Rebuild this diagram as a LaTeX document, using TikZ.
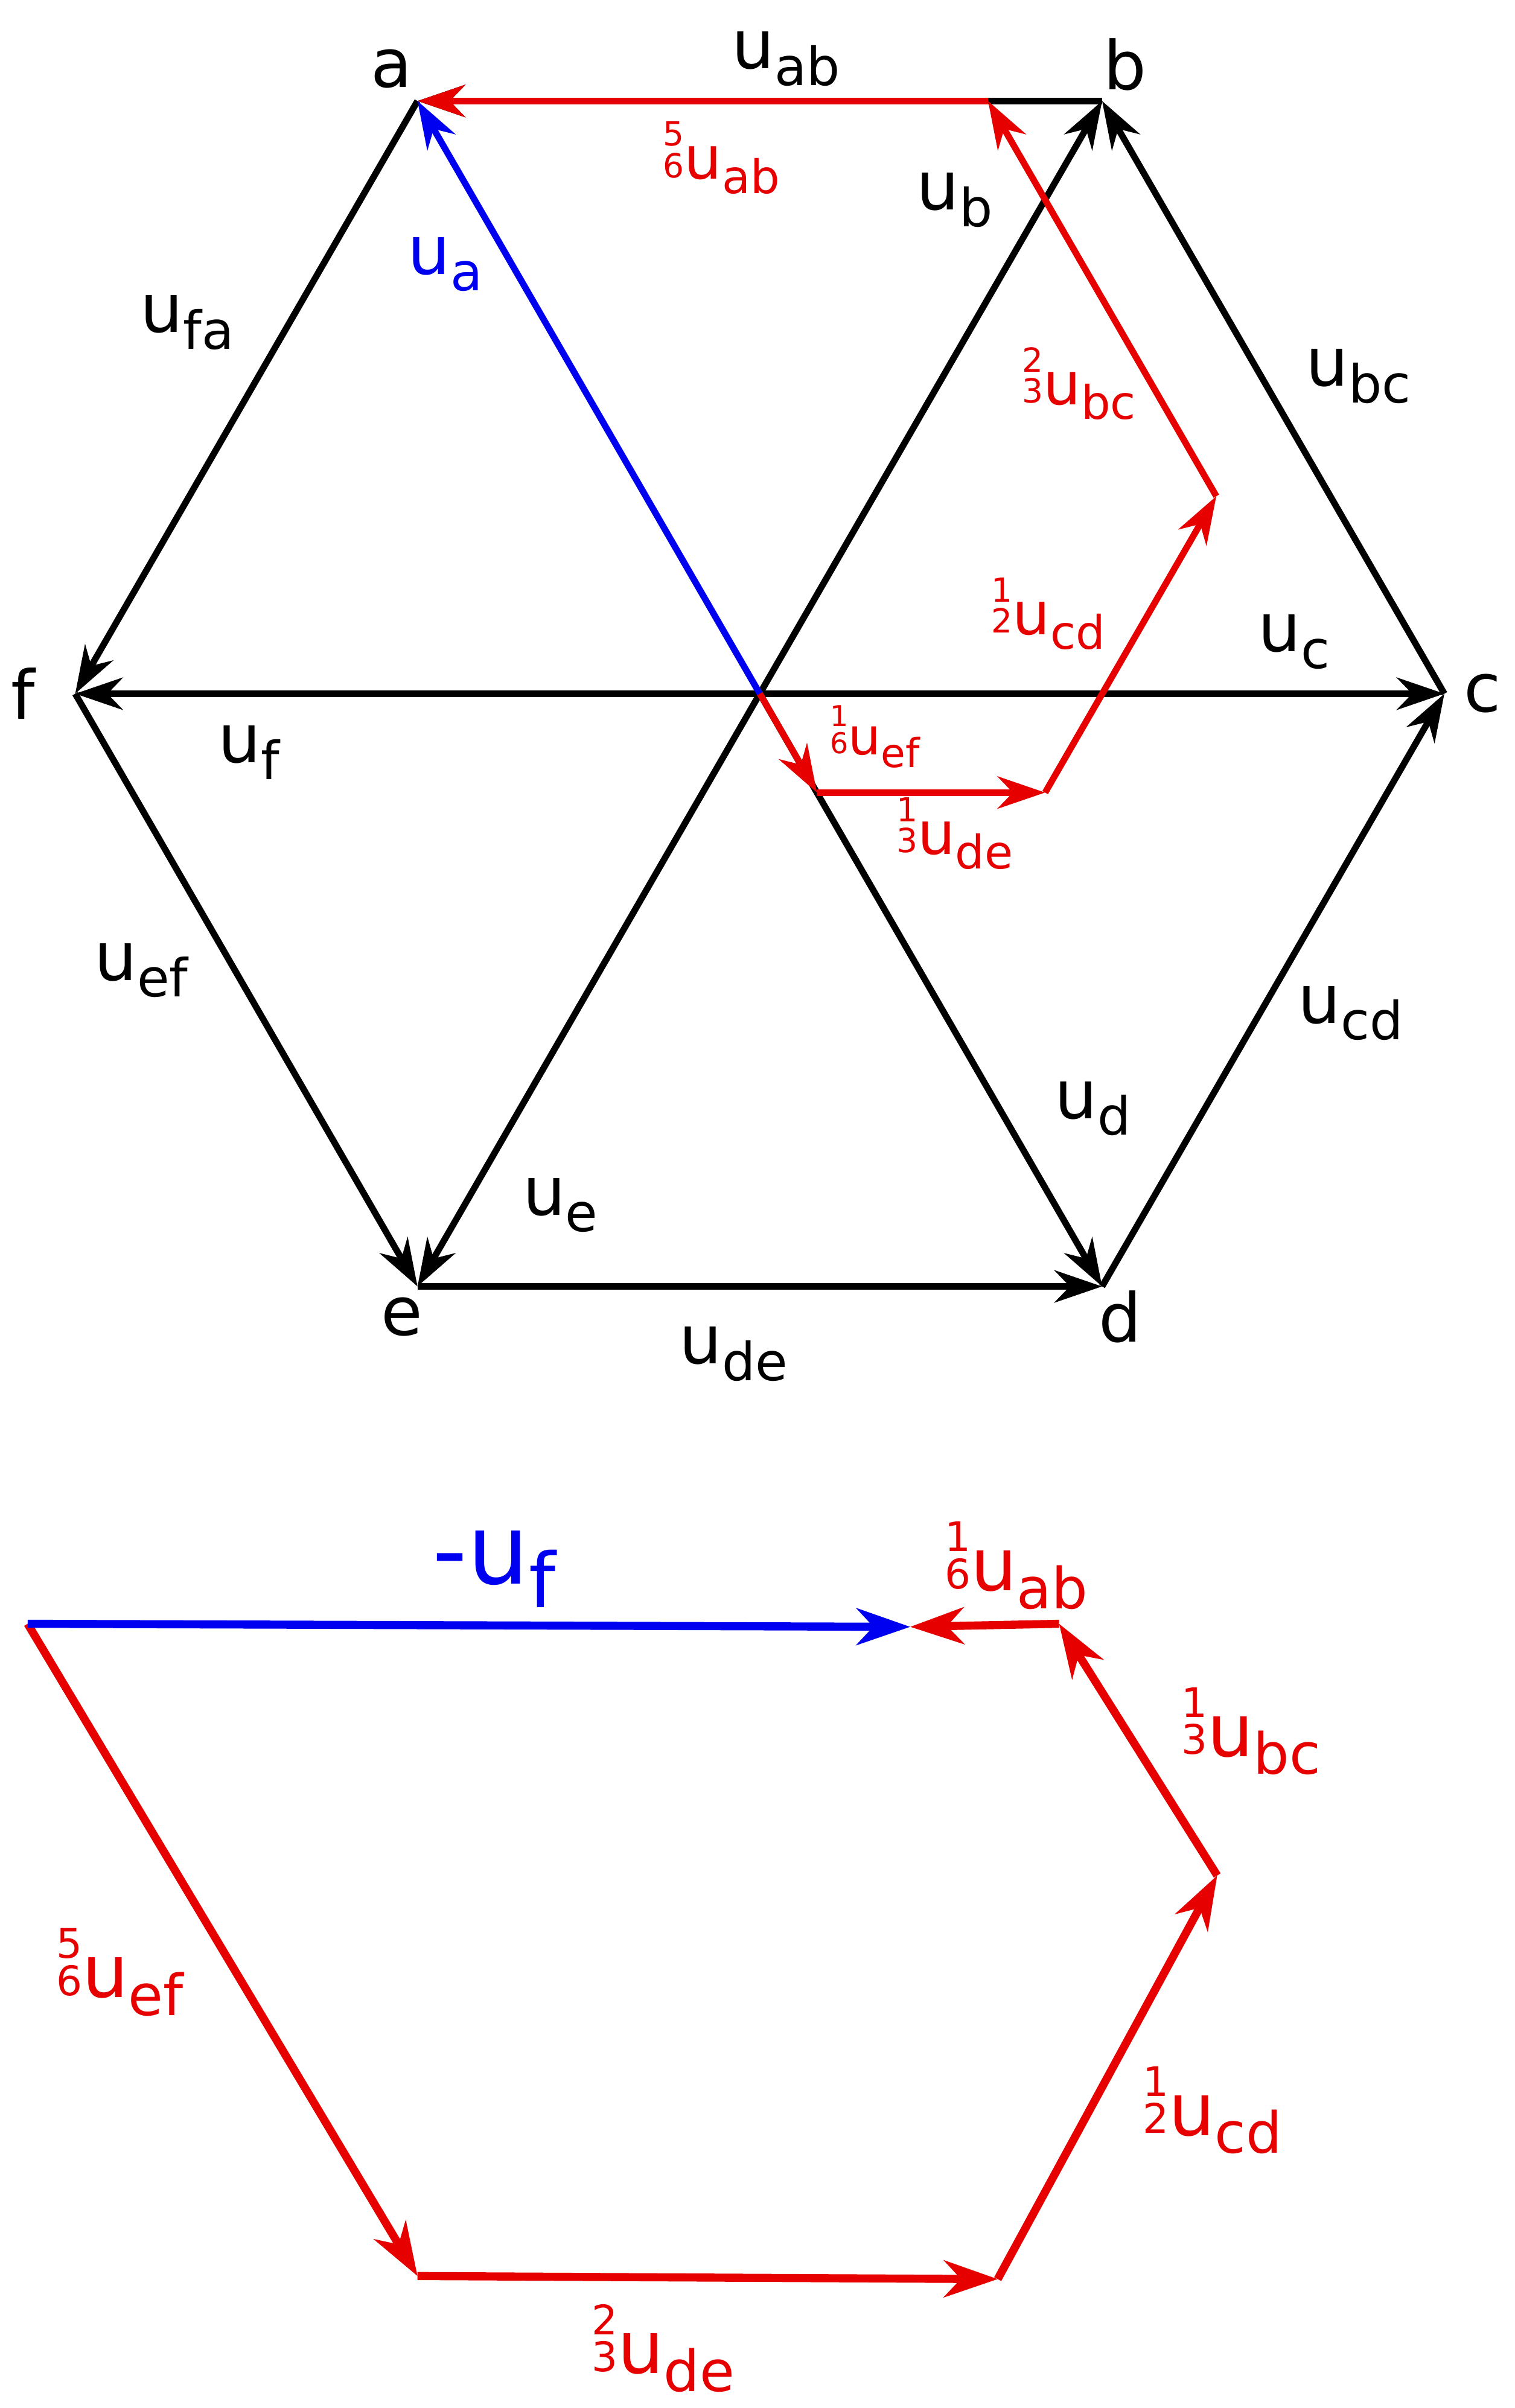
\documentclass[tikz,border=0pt]{standalone}
\usepackage{fontspec}
\setmainfont{DejaVu Sans}
\usetikzlibrary{arrows.meta}
\definecolor{myred}{RGB}{230,0,0}
\definecolor{myblue}{RGB}{0,0,240}
\newcommand\lb[1]{u\raisebox{-0.45ex}{\scalebox{0.78}{#1}}}
\newcommand\fr[2]{\raisebox{0.05ex}{\scalebox{0.56}{\shortstack{#1\\[0.1ex]#2}}}}
\begin{document}
\begin{tikzpicture}[x=0.02cm,y=-0.02cm,
  vec/.style={line width=2.4pt,-{Stealth[length=0.62cm,width=0.42cm,inset=0.2cm]}},
  bigvec/.style={line width=3pt,-{Stealth[length=0.7cm,width=0.48cm,inset=0.22cm]}},
  blk/.style={font=\fontsize{25}{28}\selectfont},
  rsm/.style={font=\fontsize{19}{22}\selectfont,text=myred},
  rbig/.style={font=\fontsize{27}{30}\selectfont,text=myred}]
\useasboundingbox (0,0) rectangle (987,1569);
% hexagon
\coordinate (O) at (495,452);
\coordinate (a) at (272,65.8);
\coordinate (b) at (718,65.8);
\coordinate (c) at (941,452);
\coordinate (d) at (718,838.2);
\coordinate (e) at (272,838.2);
\coordinate (f) at (49,452);
\draw[vec] (O) -- (b);
\draw[vec] (O) -- (c);
\draw[vec] (O) -- (d);
\draw[vec] (O) -- (e);
\draw[vec] (O) -- (f);
\draw[vec] (b) -- (a);
\draw[vec] (c) -- (b);
\draw[vec] (d) -- (c);
\draw[vec] (e) -- (d);
\draw[vec] (f) -- (e);
\draw[vec] (a) -- (f);
\draw[vec,myblue] (O) -- (a);
% red path upper
\coordinate (p1) at (532.2,516.4);
\coordinate (p2) at (680.9,516.4);
\coordinate (p3) at (792.4,323.3);
\coordinate (p4) at (643.7,65.8);
\draw[vec,myred] (O) -- (p1);
\draw[vec,myred] (p1) -- (p2);
\draw[vec,myred] (p2) -- (p3);
\draw[vec,myred] (p3) -- (p4);
\draw[vec,myred] (p4) -- (a);
% vertex labels
\node[blk] (la) at (255,45) {a};
\node[blk] (lb) at (733,42) {b};
\node[blk] (lc) at (966,452) {c};
\node[blk] (ld) at (730,858) {d};
\node[blk] (le) at (262,858) {e};
\node[blk] (lf) at (15,452) {f};
% black labels
\node[blk] (tab) at (512,38) {\lb{ab}};
\node[blk] (tb) at (622,130) {\lb{b}};
\node[blk,text=myblue] (ta) at (290,172) {\lb{a}};
\node[blk] (tfa) at (122,210) {\lb{fa}};
\node[blk] (tbc) at (885,245) {\lb{bc}};
\node[blk] (tc) at (843,418) {\lb{c}};
\node[blk] (tf) at (162,490) {\lb{f}};
\node[blk] (tef) at (92,632) {\lb{ef}};
\node[blk] (tcd) at (880,660) {\lb{cd}};
\node[blk] (td) at (712,722) {\lb{d}};
\node[blk] (te) at (365,785) {\lb{e}};
\node[blk] (tde) at (478,882) {\lb{de}};
% red labels upper
\node[rsm,font=\fontsize{22}{26}\selectfont] (r1) at (470,103) {\fr56\lb{ab}};
\node[rsm,font=\fontsize{22}{26}\selectfont] (r2) at (703,250) {\fr23\lb{bc}};
\node[rsm,font=\fontsize{22}{26}\selectfont] (r3) at (683,400) {\fr12\lb{cd}};
\node[rsm] (r4) at (570,480) {\fr16\lb{ef}};
\node[rsm,font=\fontsize{22}{26}\selectfont] (r5) at (622,543) {\fr13\lb{de}};
% lower figure
\coordinate (s) at (18,1058);
\coordinate (q1) at (272,1483);
\coordinate (q2) at (650,1485);
\coordinate (q3) at (793,1222);
\coordinate (q4) at (690,1058);
\coordinate (q5) at (593,1060);
\draw[bigvec,myred] (s) -- (q1);
\draw[bigvec,myred] (q1) -- (q2);
\draw[bigvec,myred] (q2) -- (q3);
\draw[bigvec,myred] (q3) -- (q4);
\draw[bigvec,myred] (q4) -- (q5);
\draw[bigvec,myblue] (s) -- (q5);
\node[font=\fontsize{36}{40}\selectfont,text=myblue] (mf) at (322,1022) {-\lb{f}};
\node[rbig] (l1) at (662,1020) {\fr16\lb{ab}};
\node[rbig] (l2) at (815,1128) {\fr13\lb{bc}};
\node[rbig] (l3) at (78,1285) {\fr56\lb{ef}};
\node[rbig] (l4) at (790,1375) {\fr12\lb{cd}};
\node[rbig] (l5) at (432,1530) {\fr23\lb{de}};
\end{tikzpicture}
\end{document}
